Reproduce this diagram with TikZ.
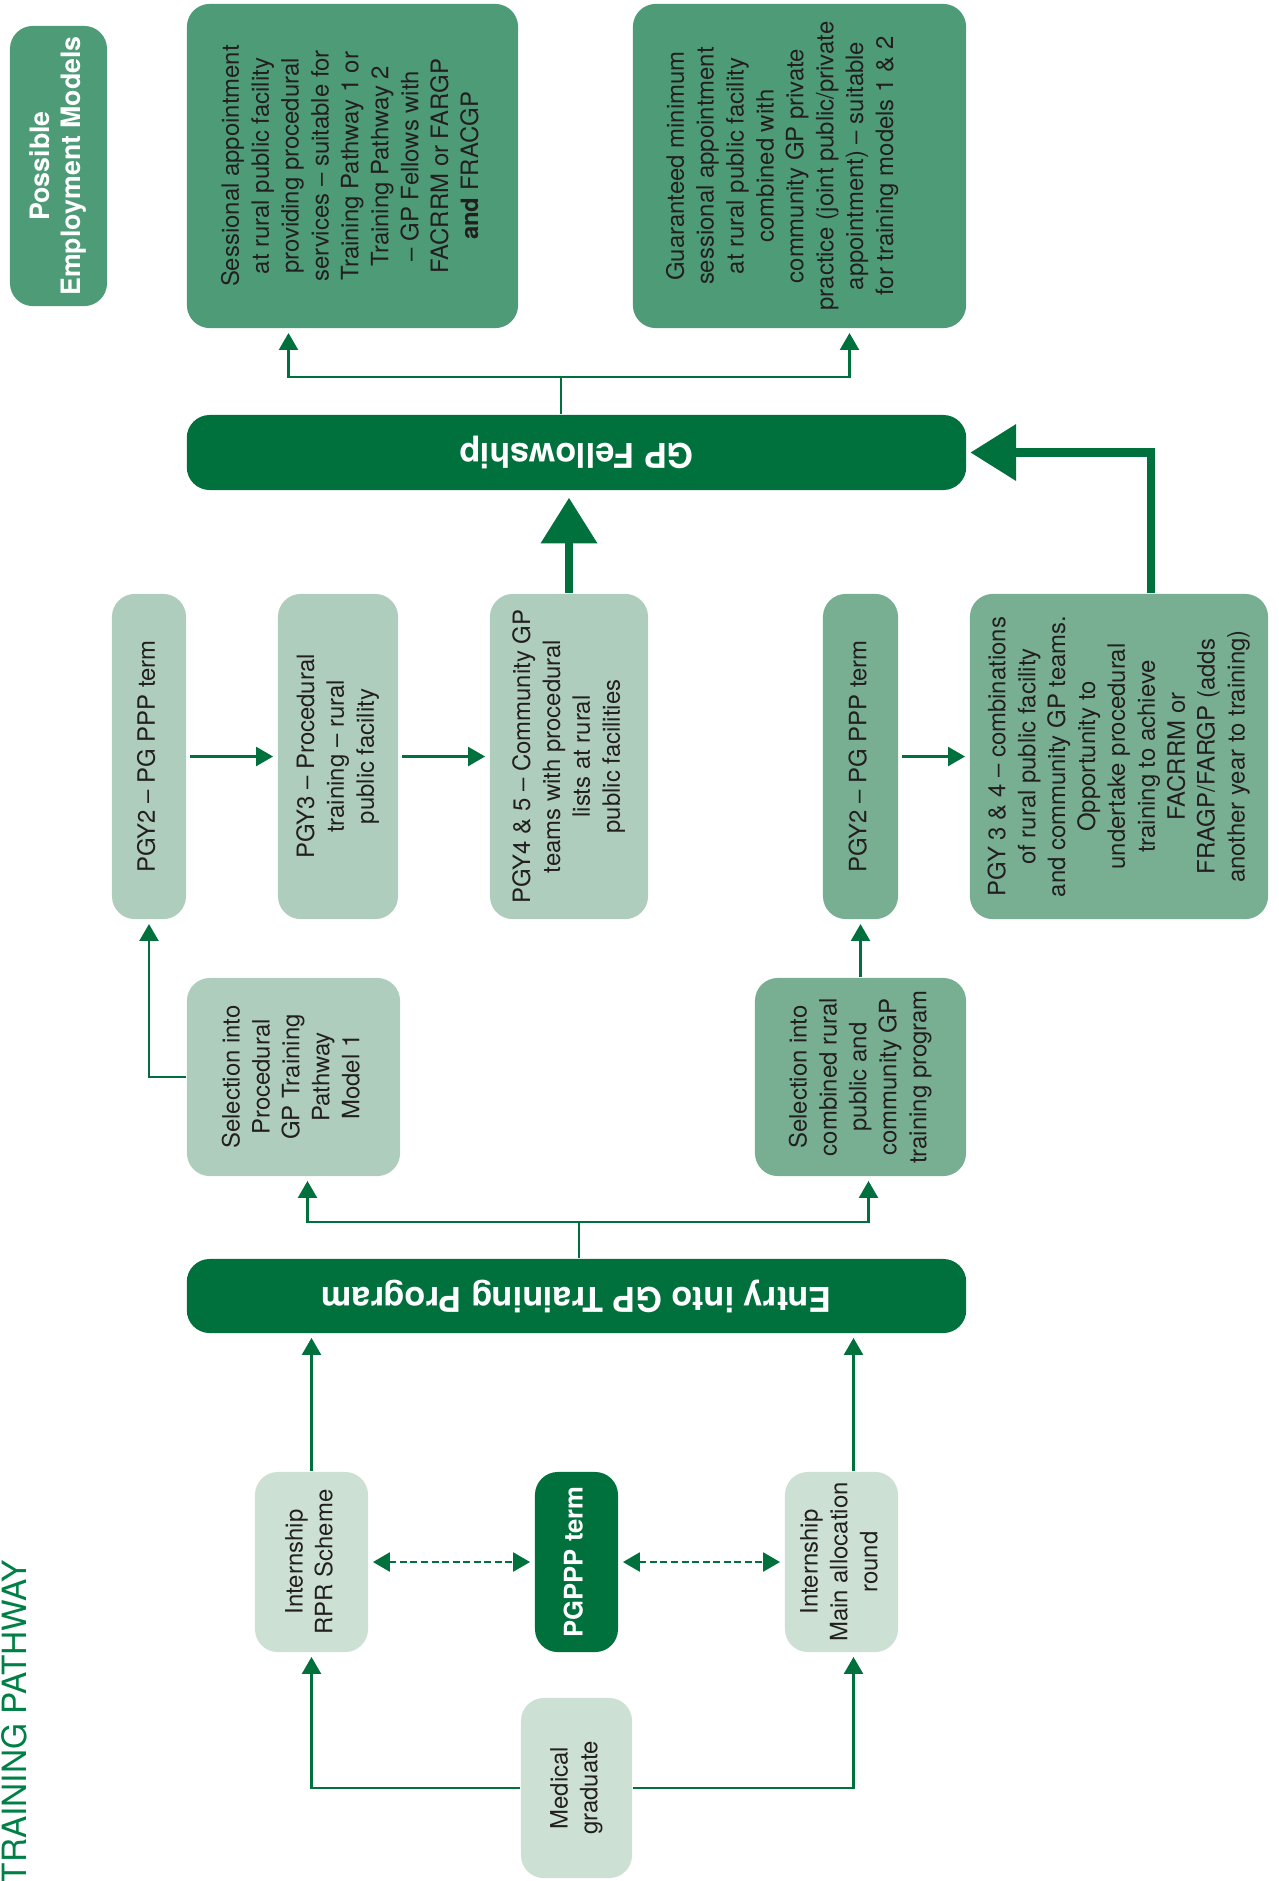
\documentclass[tikz,border=0pt]{standalone}
\usepackage{fontspec}
\setmainfont{TeX Gyre Heros}
\usepackage{graphicx}
\usepackage{tikz}
\usetikzlibrary{arrows.meta,calc,positioning}
\definecolor{gpdark}{RGB}{0,112,60}
\definecolor{gptitle}{RGB}{0,128,70}
\definecolor{gpmid}{RGB}{78,155,119}
\definecolor{gplight}{RGB}{174,205,189}
\definecolor{gpcomb}{RGB}{120,175,147}
\definecolor{gppale}{RGB}{204,224,212}
\definecolor{gptext}{RGB}{35,31,32}
\newcommand{\boxfont}{\fontsize{6.8}{8.5}\selectfont}
\newcommand{\headfont}{\bfseries\fontsize{7.6}{8.8}\selectfont}
\newcommand{\barfont}{\bfseries\fontsize{9.7}{11}\selectfont}
\newcommand{\termfont}{\bfseries\fontsize{7.3}{8.8}\selectfont}
\newcommand{\titlefont}{\fontsize{9.5}{11}\selectfont}
\newcommand{\vtext}[1]{\rotatebox{90}{\begin{tabular}{@{}c@{}}#1\end{tabular}}}
\newcommand{\flipped}[1]{\rotatebox{180}{#1}}
\tikzstyle{box}=[rounded corners=6.5pt,inner sep=0pt,text=gptext,font=\boxfont]
\tikzstyle{employ}=[box,fill=gpmid]
\tikzstyle{proc}=[box,fill=gplight]
\tikzstyle{comb}=[box,fill=gpcomb]
\tikzstyle{intern}=[box,fill=gppale]
\tikzstyle{bar}=[box,fill=gpdark,text=white,font=\barfont]
\tikzstyle{title}=[inner sep=0pt,text=gptitle,font=\titlefont]
\tikzstyle{link}=[draw=gpdark,line width=0.6pt]
\tikzstyle{edge}=[link,-{Triangle[width=5.4pt,length=4.8pt]},shorten >=1.2pt]
\tikzstyle{dashedge}=[link,{Triangle[width=5.4pt,length=4.8pt]}-{Triangle[width=5.4pt,length=4.8pt]},
                      dash pattern=on 2pt off 1pt,shorten >=1.2pt,shorten <=1.2pt]
\tikzstyle{bigedge}=[draw=gpdark,line width=2.3pt,-{Triangle[width=15.6pt,length=13pt]}]
\tikzset{dims/.style 2 args={minimum width=#1,minimum height=#2}}

\begin{document}
\begin{tikzpicture}[x=0.01cm,y=-0.01cm]
    \useasboundingbox (0,0) rectangle (1278,1881);
    % Employment models along the top
    \node[employ,dims={0.97cm}{2.80cm},text=white,font=\headfont] (models) at (58.5,166)
        {\vtext{Possible\\Employment Models}};
    \node[employ,dims={3.31cm}{3.24cm}] (sess) at (352.5,166)
        {\vtext{Sessional appointment\\at rural public facility\\providing procedural\\services – suitable for\\Training Pathway 1 or\\Training Pathway 2\\– GP Fellows with\\FACRRM or FARGP\\\textbf{and} FRACGP}};
    \node[employ,dims={3.33cm}{3.24cm}] (guar) at (799.5,166)
        {\hspace*{-0.34cm}\vtext{Guaranteed minimum\\sessional appointment\\at rural public facility\\combined with\\community GP private\\practice (joint public/private\\appointment) – suitable\\for training models 1 \& 2}};
    % The two wide bars
    \node[bar,dims={7.79cm}{0.75cm}] (fellow) at (576.5,452.5) {\flipped{GP Fellowship}};
    \node[bar,dims={7.79cm}{0.74cm}] (entry) at (576.5,1296) {\flipped{Entry into GP Training Program}};
    % Procedural pathway (model 1)
    \node[proc,dims={0.74cm}{3.25cm}] (pgyA) at (149,756.5) {\vtext{PGY2 – PG PPP term}};
    \node[proc,dims={1.20cm}{3.25cm}] (pgyB) at (338,756.5)
        {\vtext{PGY3 – Procedural\\training – rural\\public facility}};
    \node[proc,dims={1.58cm}{3.25cm}] (pgyC) at (569,756.5)
        {\vtext{PGY4 \& 5 – Community GP\\teams with procedural\\lists at rural\\public facilities}};
    \node[proc,dims={2.13cm}{1.98cm}] (selA) at (293.5,1077)
        {\vtext{Selection into\\Procedural\\GP Training\\Pathway\\Model 1}};
    % Combined pathway
    \node[comb,dims={0.75cm}{3.25cm}] (pgyD) at (860.5,756.5) {\vtext{PGY2 – PG PPP term}};
    \node[comb,dims={2.98cm}{3.25cm}] (pgyE) at (1119,756.5)
        {\vtext{PGY 3 \& 4 – combinations\\of rural public facility\\and community GP teams.\\Opportunity to\\undertake procedural\\training to achieve\\FACRRM or\\FRAGP/FARGP (adds\\another year to training)}};
    \node[comb,dims={2.11cm}{1.98cm}] (selB) at (860.5,1077)
        {\vtext{Selection into\\combined rural\\public and\\community GP\\training program}};
    % Internships and medical graduate
    \node[intern,dims={1.13cm}{1.80cm}] (rpr) at (311.5,1562) {\vtext{Internship\\RPR Scheme}};
    \node[box,fill=gpdark,text=white,font=\termfont,dims={0.83cm}{1.80cm}] (pgppp) at (576.5,1562)
        {\vtext{PGPPP term}};
    \node[intern,dims={1.13cm}{1.80cm}] (mainal) at (841.5,1562)
        {\vtext{Internship\\Main allocation\\round}};
    \node[intern,dims={1.11cm}{1.80cm}] (medgrad) at (576.5,1788) {\vtext{Medical\\graduate}};
    % Page title
    \node[title,rotate=90,anchor=north west] (title) at (1,1884) {TRAINING PATHWAY};

    % Connect the steps of each pathway
    \foreach \source/\dest in {pgyA/pgyB, pgyB/pgyC, pgyD/pgyE}
        \path[edge,shorten <=1pt] (\source) -- (\dest);
    \path[edge] (selA.west) -| (pgyA.south);
    \path[edge] (selB.north) -- (pgyD.south);
    \path[bigedge,shorten >=2pt] (pgyC.north) -- (pgyC.north |- fellow.south);
    \coordinate (fellowup) at ($(pgyE.north)+(32,0)$);
    \path[bigedge,shorten >=1pt] (fellowup) |- (fellow.east);
    % Branch above the fellowship bar
    \coordinate (fsplit) at (561,377);
    \path[link] (fellow.north -| fsplit) -- (fsplit);
    \path[edge] (fsplit) -| ($(sess.south)+(-64,0)$);
    \path[edge] (fsplit) -| ($(guar.south)+(50,0)$);
    % Branch above the entry bar
    \coordinate (esplit) at (579,1222);
    \path[link] (entry.north -| esplit) -- (esplit);
    \path[edge] (esplit) -| ($(selA.south)+(14,0)$);
    \path[edge] (esplit) -| ($(selB.south)+(8,0)$);
    % Internships into the training program
    \coordinate (mainup) at ($(mainal.north)+(12,0)$);
    \coordinate (mainlow) at ($(mainal.south)+(12,0)$);
    \path[edge] (rpr.north) -- (rpr.north |- entry.south);
    \path[edge] (mainup) -- (mainup |- entry.south);
    \path[edge] (medgrad.west) -| (rpr.south);
    \path[edge] (medgrad.east) -| (mainlow);
    \path[dashedge] (rpr.east) -- (pgppp.west);
    \path[dashedge] (pgppp.east) -- (mainal.west);
\end{tikzpicture}
\end{document}
